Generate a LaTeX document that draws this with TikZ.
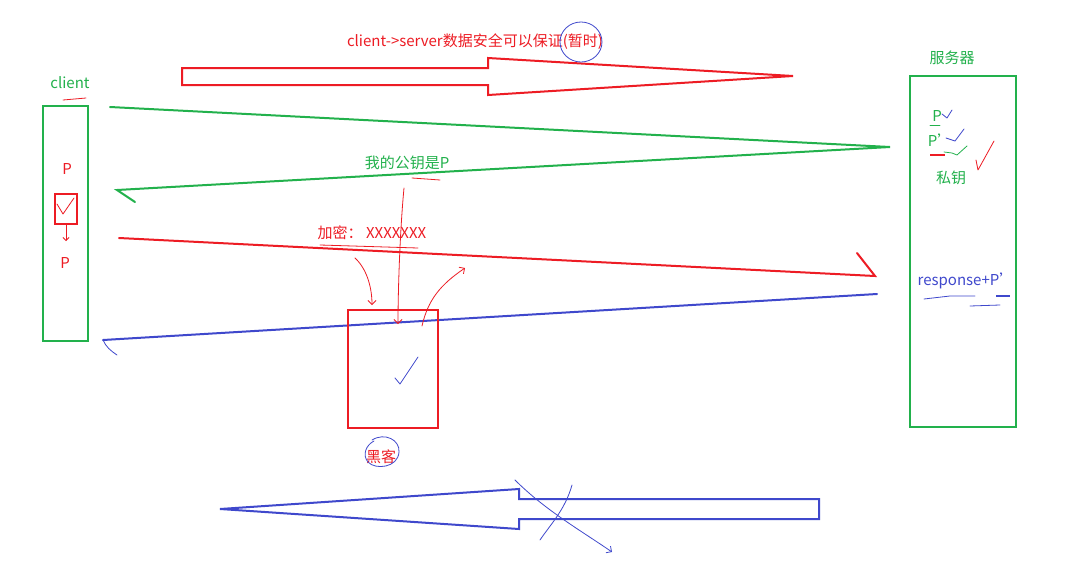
\documentclass[tikz,border=0pt]{standalone}
\usepackage{fontspec}
\setmainfont{Noto Sans CJK SC}
\usetikzlibrary{arrows.meta}
\definecolor{pgreen}{RGB}{34,177,76}
\definecolor{pred}{RGB}{237,28,36}
\definecolor{pblue}{RGB}{63,72,204}
\tikzset{
  pen/.style={line width=0.8pt, line cap=round, line join=round},
  lbl/.style={inner sep=0pt, font=\fontsize{15}{17}\selectfont},
  box/.style={draw, line width=2pt, inner sep=0pt},
}
\begin{document}
\begin{tikzpicture}[x=1pt,y=-1pt]
\useasboundingbox (0,0) rectangle (1072,576);
\fill[white] (0,0) rectangle (1072,576);

% top red hollow arrow
\draw[pred, line width=2pt, line join=miter] (182,68) -- (488,68) -- (488,58) -- (793,76) -- (488,95) -- (488,85) -- (182,85) -- cycle;
\node[lbl, text=pred] (title) at (475,42) {client->server数据安全可以保证(暂时)};
\draw[pblue, pen] (581,42) ellipse (21pt and 20pt);

% client
\node[box, draw=pgreen, minimum width=45pt, minimum height=235pt] (client) at (65.5,223.5) {};
\node[lbl, text=pgreen] (clientlbl) at (70,83) {client};
\draw[pred, pen] (63,100) -- (86,98);
\node[lbl, text=pred] (p1) at (67,169) {P};
\node[box, draw=pred, minimum width=22pt, minimum height=30pt] (pbox) at (66,209) {};
\draw[pred, pen] (57,204) -- (63,214) -- (74,198);
\draw[pred, pen, -{Straight Barb[length=3pt]}] (pbox.south) -- (66,241);
\node[lbl, text=pred] (p2) at (65,263) {P};

% server
\node[box, draw=pgreen, minimum width=106pt, minimum height=351pt] (server) at (963,251.5) {};
\node[lbl, text=pgreen] (serverlbl) at (952,58) {服务器};
\node[lbl, text=pgreen] (sp1) at (937,116) {P};
\draw[pgreen, pen] (930,125) -- (940,125);
\draw[pblue, pen] (942,114) -- (947,118) -- (952,110);
\node[lbl, text=pgreen] (sp2) at (940,140) {P'};
\draw[pblue, pen] (946,138) -- (955,141) -- (964,129);
\draw[pred, line width=1.2pt] (930,155) -- (945,155);
\draw[pgreen, pen] (944,152) -- (952,153) -- (957,155) -- (967,146);
\draw[pred, pen] (976,160) -- (978,170) -- (994,141);
\node[lbl, text=pgreen] (siyao) at (951,178) {私钥};
\node[lbl, text=pblue] (resp) at (966,281) {response+P'};
\draw[pblue, pen] (924,299) -- (950,296) -- (975,296);
\draw[pblue, pen] (970,306) -- (1000,305);
\draw[pblue, line width=1.2pt] (996,296) -- (1010,296);

% green V: request and public key
\coordinate (g0) at (110,107);
\coordinate (gtip) at (890,147);
\coordinate (g1) at (117,190);
\draw[pgreen, line width=2pt, line cap=round] (g0) -- (gtip) -- (g1) -- (135,202);
\node[lbl, text=pgreen] (pubkey) at (407,163) {我的公钥是P};
\draw[pred, pen] (412,178) -- (440,180);

% red encrypted message
\coordinate (r0) at (119,238);
\coordinate (r1) at (875,276);
\draw[pred, line width=2pt, line cap=round] (r0) -- (r1) -- (857,253);
\node[lbl, text=pred] (enc) at (372,233) {加密： XXXXXXX};
\draw[pred, pen] (320,245) -- (418,248);

% blue response
\coordinate (b0) at (877,294);
\coordinate (b1) at (103,340);
\draw[pblue, line width=2pt, line cap=round] (b0) -- (b1);
\draw[pblue, pen] (b1) .. controls (106,347) and (111,351) .. (117,355);

% hacker
\node[box, draw=pred, minimum width=90pt, minimum height=118pt] (hacker) at (393,369) {};
\draw[pblue, pen] (395,378) -- (400,384) -- (418,357);
\node[lbl, text=pred] (hackerlbl) at (381,457) {黑客};
\draw[pblue, pen] (372,440) .. controls (385,432) and (400,440) .. (399,452) .. controls (398,468) and (375,470) .. (368,462) .. controls (362,455) and (366,445) .. (374,441);
\draw[pred, pen, -{Straight Barb[length=4pt]}] (355,258) .. controls (368,270) and (372,290) .. (372,305);
\draw[pred, pen, -{Straight Barb[length=4pt]}] (404,188) .. controls (400,230) and (398,290) .. (398,324);
\draw[pred, pen, -{Straight Barb[length=4pt]}] (422,326) .. controls (428,300) and (440,285) .. (465,268);

% bottom blue hollow arrow
\draw[pblue, line width=2pt, line join=miter] (819,499) -- (519,499) -- (519,489) -- (220,509) -- (519,529) -- (519,519) -- (819,519) -- cycle;
\draw[pblue, pen, -{Straight Barb[length=4pt]}] (515,480) .. controls (545,510) and (580,530) .. (612,552);
\draw[pblue, pen] (572,485) .. controls (565,510) and (550,525) .. (540,540);
\end{tikzpicture}
\end{document}
